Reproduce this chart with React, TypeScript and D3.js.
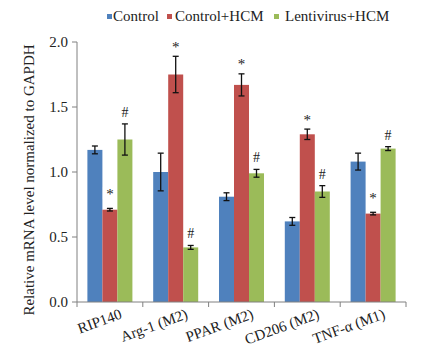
import React from "react";
import * as d3 from "d3";

const categories = ["RIP140", "Arg-1 (M2)", "PPAR (M2)", "CD206 (M2)", "TNF-α (M1)"];
const seriesNames = ["Control", "Control+HCM", "Lentivirus+HCM"];
const seriesColors = ["#4F81BD", "#C0504D", "#9BBB59"];
const controlValues = [1.17, 1.0, 0.81, 0.62, 1.08];
const controlErrors = [0.03, 0.145, 0.03, 0.03, 0.065];
const hcmValues = [0.71, 1.75, 1.67, 1.29, 0.68];
const hcmErrors = [0.01, 0.14, 0.085, 0.04, 0.01];
const lentiValues = [1.25, 0.42, 0.99, 0.85, 1.18];
const lentiErrors = [0.12, 0.015, 0.03, 0.045, 0.015];
const controlMarks = ["", "", "", "", ""];
const hcmMarks = ["*", "*", "*", "*", "*"];
const lentiMarks = ["#", "#", "#", "#", "#"];
const yTicks = [0, 0.5, 1.0, 1.5, 2.0];
const yTitle = "Relative mRNA level normalized to GAPDH";

const values = [controlValues, hcmValues, lentiValues];
const errors = [controlErrors, hcmErrors, lentiErrors];
const marks = [controlMarks, hcmMarks, lentiMarks];

export default function App() {
  const W = 434, H = 356;
  const left = 77, right = 406, top = 42, bottom = 302;
  const font = '"Times New Roman", "Liberation Serif", serif';
  const y = d3.scaleLinear().domain([0, 2]).range([bottom, top]);
  const x0 = d3.scaleBand<string>().domain(categories).range([left, right]).paddingInner(0.316).paddingOuter(0.158);
  const x1 = d3.scaleBand<string>().domain(seriesNames).range([0, x0.bandwidth()]).padding(0);
  const bw = x1.bandwidth();
  const legendSq = [107, 167, 274];
  const legendTx = [113, 175, 285];

  return (
    <svg width={W} height={H} style={{ position: "absolute", left: 0, top: 0, background: "#fff", fontFamily: font }}>
      {/* legend */}
      {seriesNames.map((s, i) => (
        <g key={s}>
          <rect x={legendSq[i]} y={14} width={5} height={5} fill={seriesColors[i]} />
          <text x={legendTx[i]} y={21} fontSize={15} fill="#222" style={{ fontFamily: font }}>{s}</text>
        </g>
      ))}
      {/* bars */}
      {categories.map((c, ci) => (
        <g key={c} transform={`translate(${x0(c)},0)`}>
          {seriesNames.map((s, si) => {
            const v = values[si][ci];
            const e = errors[si][ci];
            const bx = x1(s)!;
            const cx = bx + bw / 2;
            const mark = marks[si][ci];
            const white = si === 1 && (ci === 0 || ci === 4);
            const errTop = y(v + e);
            const baseY = white ? errTop - 9 : mark === "*" ? errTop - 4.5 : errTop - 7;
            return (
              <g key={s}>
                <rect x={bx} y={y(v)} width={bw} height={bottom - y(v)} fill={seriesColors[si]} />
                <line x1={cx} x2={cx} y1={errTop} y2={y(v - e)} stroke="#111" strokeWidth={1.3} />
                <line x1={cx - 3} x2={cx + 3} y1={errTop} y2={errTop} stroke="#111" strokeWidth={1.3} />
                <line x1={cx - 3} x2={cx + 3} y1={y(v - e)} y2={y(v - e)} stroke="#111" strokeWidth={1.3} />
                {mark && white && (
                  <rect x={cx - 7} y={errTop - 24} width={14} height={17} fill="#fff" rx={3} />
                )}
                {mark && (
                  <text x={cx} y={baseY} textAnchor="middle" fontSize={mark === "*" ? 15 : 14} fill="#222" style={{ fontFamily: font }}>
                    {mark}
                  </text>
                )}
              </g>
            );
          })}
        </g>
      ))}
      {/* y axis */}
      <line x1={left} x2={left} y1={top} y2={bottom} stroke="#808080" strokeWidth={1} />
      {yTicks.map((t) => (
        <g key={t}>
          <line x1={left - 5} x2={left} y1={y(t)} y2={y(t)} stroke="#808080" />
          <text x={left - 9} y={y(t) + 5} textAnchor="end" fontSize={15} fill="#222" style={{ fontFamily: font }}>{t.toFixed(1)}</text>
        </g>
      ))}
      {/* x axis */}
      <line x1={left} x2={right} y1={bottom} y2={bottom} stroke="#808080" />
      {d3.range(categories.length + 1).map((i) => {
        const xx = left + i * x0.step();
        return <line key={i} x1={xx} x2={xx} y1={bottom} y2={bottom + 5} stroke="#808080" />;
      })}
      {categories.map((c) => {
        const cx = x0(c)! + x0.bandwidth() / 2 + 13;
        return (
          <text key={c} x={cx} y={318} textAnchor="end" fontSize={15} fill="#222" transform={`rotate(-20,${cx},318)`} style={{ fontFamily: font }}>
            {c}
          </text>
        );
      })}
      <text transform={`translate(34,${(top + bottom) / 2 + 8}) rotate(-90)`} textAnchor="middle" fontSize={15} fill="#222" style={{ fontFamily: font }}>
        {yTitle}
      </text>
    </svg>
  );
}
